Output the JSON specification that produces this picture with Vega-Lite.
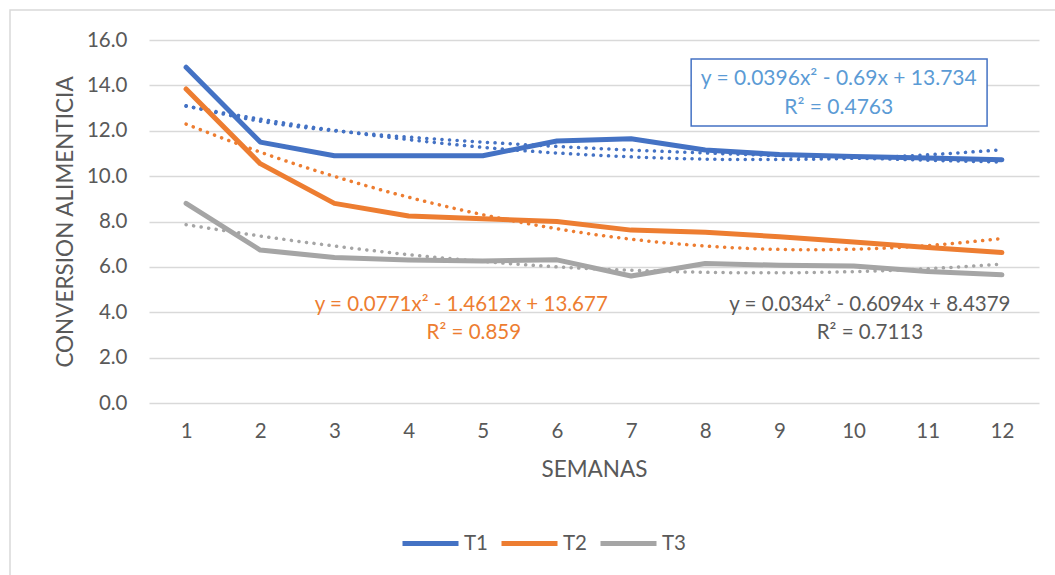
{
  "$schema": "https://vega.github.io/schema/vega-lite/v6.json",
  "width": 890,
  "height": 363,
  "autosize": {"type": "none"},
  "padding": {"left": 149, "top": 40, "right": 16, "bottom": 172},
  "background": "white",
  "config": {
    "view": {"stroke": null},
    "font": "Lato",
    "text": {"font": "Lato"}
  },
  "datasets": {
    "obs": [
      {"semana": 1, "serie": "T1", "valor": 14.8},
      {"semana": 2, "serie": "T1", "valor": 11.5},
      {"semana": 3, "serie": "T1", "valor": 10.9},
      {"semana": 4, "serie": "T1", "valor": 10.9},
      {"semana": 5, "serie": "T1", "valor": 10.9},
      {"semana": 6, "serie": "T1", "valor": 11.55},
      {"semana": 7, "serie": "T1", "valor": 11.65},
      {"semana": 8, "serie": "T1", "valor": 11.15},
      {"semana": 9, "serie": "T1", "valor": 10.95},
      {"semana": 10, "serie": "T1", "valor": 10.87},
      {"semana": 11, "serie": "T1", "valor": 10.8},
      {"semana": 12, "serie": "T1", "valor": 10.72},
      {"semana": 1, "serie": "T2", "valor": 13.84},
      {"semana": 2, "serie": "T2", "valor": 10.55},
      {"semana": 3, "serie": "T2", "valor": 8.8},
      {"semana": 4, "serie": "T2", "valor": 8.24},
      {"semana": 5, "serie": "T2", "valor": 8.12},
      {"semana": 6, "serie": "T2", "valor": 8.0},
      {"semana": 7, "serie": "T2", "valor": 7.62},
      {"semana": 8, "serie": "T2", "valor": 7.53},
      {"semana": 9, "serie": "T2", "valor": 7.33},
      {"semana": 10, "serie": "T2", "valor": 7.1},
      {"semana": 11, "serie": "T2", "valor": 6.85},
      {"semana": 12, "serie": "T2", "valor": 6.63},
      {"semana": 1, "serie": "T3", "valor": 8.8},
      {"semana": 2, "serie": "T3", "valor": 6.74},
      {"semana": 3, "serie": "T3", "valor": 6.41},
      {"semana": 4, "serie": "T3", "valor": 6.3},
      {"semana": 5, "serie": "T3", "valor": 6.26},
      {"semana": 6, "serie": "T3", "valor": 6.31},
      {"semana": 7, "serie": "T3", "valor": 5.6},
      {"semana": 8, "serie": "T3", "valor": 6.15},
      {"semana": 9, "serie": "T3", "valor": 6.07},
      {"semana": 10, "serie": "T3", "valor": 6.04},
      {"semana": 11, "serie": "T3", "valor": 5.8},
      {"semana": 12, "serie": "T3", "valor": 5.65}
    ],
    "trend": [
      {"semana": 1, "serie": "T1", "curva": "T1a", "valor": 13.08},
      {"semana": 2, "serie": "T1", "curva": "T1a", "valor": 12.51},
      {"semana": 3, "serie": "T1", "curva": "T1a", "valor": 12.02},
      {"semana": 4, "serie": "T1", "curva": "T1a", "valor": 11.61},
      {"semana": 5, "serie": "T1", "curva": "T1a", "valor": 11.27},
      {"semana": 6, "serie": "T1", "curva": "T1a", "valor": 11.02},
      {"semana": 7, "serie": "T1", "curva": "T1a", "valor": 10.85},
      {"semana": 8, "serie": "T1", "curva": "T1a", "valor": 10.75},
      {"semana": 9, "serie": "T1", "curva": "T1a", "valor": 10.73},
      {"semana": 10, "serie": "T1", "curva": "T1a", "valor": 10.79},
      {"semana": 11, "serie": "T1", "curva": "T1a", "valor": 10.94},
      {"semana": 12, "serie": "T1", "curva": "T1a", "valor": 11.16},
      {"semana": 1, "serie": "T1", "curva": "T1b", "valor": 13.1},
      {"semana": 2, "serie": "T1", "curva": "T1b", "valor": 12.42},
      {"semana": 3, "serie": "T1", "curva": "T1b", "valor": 12.0},
      {"semana": 4, "serie": "T1", "curva": "T1b", "valor": 11.72},
      {"semana": 5, "serie": "T1", "curva": "T1b", "valor": 11.5},
      {"semana": 6, "serie": "T1", "curva": "T1b", "valor": 11.31},
      {"semana": 7, "serie": "T1", "curva": "T1b", "valor": 11.15},
      {"semana": 8, "serie": "T1", "curva": "T1b", "valor": 11.02},
      {"semana": 9, "serie": "T1", "curva": "T1b", "valor": 10.9},
      {"semana": 10, "serie": "T1", "curva": "T1b", "valor": 10.8},
      {"semana": 11, "serie": "T1", "curva": "T1b", "valor": 10.7},
      {"semana": 12, "serie": "T1", "curva": "T1b", "valor": 10.62},
      {"semana": 1, "serie": "T2", "curva": "T2", "valor": 12.29},
      {"semana": 2, "serie": "T2", "curva": "T2", "valor": 11.06},
      {"semana": 3, "serie": "T2", "curva": "T2", "valor": 9.99},
      {"semana": 4, "serie": "T2", "curva": "T2", "valor": 9.07},
      {"semana": 5, "serie": "T2", "curva": "T2", "valor": 8.3},
      {"semana": 6, "serie": "T2", "curva": "T2", "valor": 7.68},
      {"semana": 7, "serie": "T2", "curva": "T2", "valor": 7.22},
      {"semana": 8, "serie": "T2", "curva": "T2", "valor": 6.92},
      {"semana": 9, "serie": "T2", "curva": "T2", "valor": 6.77},
      {"semana": 10, "serie": "T2", "curva": "T2", "valor": 6.78},
      {"semana": 11, "serie": "T2", "curva": "T2", "valor": 6.94},
      {"semana": 12, "serie": "T2", "curva": "T2", "valor": 7.25},
      {"semana": 1, "serie": "T3", "curva": "T3", "valor": 7.86},
      {"semana": 2, "serie": "T3", "curva": "T3", "valor": 7.36},
      {"semana": 3, "serie": "T3", "curva": "T3", "valor": 6.92},
      {"semana": 4, "serie": "T3", "curva": "T3", "valor": 6.54},
      {"semana": 5, "serie": "T3", "curva": "T3", "valor": 6.24},
      {"semana": 6, "serie": "T3", "curva": "T3", "valor": 6.0},
      {"semana": 7, "serie": "T3", "curva": "T3", "valor": 5.85},
      {"semana": 8, "serie": "T3", "curva": "T3", "valor": 5.76},
      {"semana": 9, "serie": "T3", "curva": "T3", "valor": 5.74},
      {"semana": 10, "serie": "T3", "curva": "T3", "valor": 5.79},
      {"semana": 11, "serie": "T3", "curva": "T3", "valor": 5.92},
      {"semana": 12, "serie": "T3", "curva": "T3", "valor": 6.12}
    ],
    "etiquetas": [
      {"semana": 9.8, "valor": 14.28, "serie": "T1", "texto": "y = 0.0396x² - 0.69x + 13.734"},
      {"semana": 9.8, "valor": 13.0, "serie": "T1", "texto": "R² = 0.4763"},
      {"semana": 4.71, "valor": 4.32, "serie": "T2", "texto": "y = 0.0771x² - 1.4612x + 13.677"},
      {"semana": 4.88, "valor": 3.09, "serie": "T2", "texto": "R² = 0.859"},
      {"semana": 10.22, "valor": 4.32, "serie": "T3", "texto": "y = 0.034x² - 0.6094x + 8.4379"},
      {"semana": 10.22, "valor": 3.09, "serie": "T3", "texto": "R² = 0.7113"}
    ],
    "caja": [
      {"semana": 7.81, "semana2": 11.8, "valor": 15.16, "valor2": 12.21}
    ],
    "marco": [
      {"semana": -1.374, "semana2": 30, "valor": 17.32, "valor2": -30}
    ]
  },
  "encoding": {
    "x": {
      "field": "semana",
      "type": "quantitative",
      "scale": {"domain": [0.5, 12.5], "nice": false, "zero": false},
      "axis": {
        "values": [1, 2, 3, 4, 5, 6, 7, 8, 9, 10, 11, 12],
        "grid": false,
        "domain": false,
        "ticks": false,
        "tickSize": 0,
        "labelPadding": 18,
        "labelFontSize": 20.5,
        "labelColor": "#595959",
        "labelFont": "Lato",
        "title": "SEMANAS",
        "titleFont": "Lato",
        "titleFontSize": 22.5,
        "titleFontWeight": "normal",
        "titleColor": "#595959",
        "titlePadding": 17
      }
    },
    "y": {
      "field": "valor",
      "type": "quantitative",
      "scale": {"domain": [0, 16], "nice": false, "zero": false},
      "axis": {
        "values": [0, 2, 4, 6, 8, 10, 12, 14, 16],
        "format": ".1f",
        "grid": true,
        "gridColor": "#D9D9D9",
        "gridWidth": 1.5,
        "domain": false,
        "ticks": false,
        "tickSize": 0,
        "labelPadding": 22,
        "labelFontSize": 20.5,
        "labelColor": "#595959",
        "labelFont": "Lato",
        "title": "CONVERSION ALIMENTICIA",
        "titleFont": "Lato",
        "titleFontSize": 22.5,
        "titleFontWeight": "normal",
        "titleColor": "#595959",
        "titlePadding": 9
      }
    }
  },
  "layer": [
    {
      "data": {"name": "marco"},
      "mark": {"type": "rect", "fill": null, "fillOpacity": 0, "stroke": "#D9D9D9", "strokeWidth": 1.5, "clip": false},
      "encoding": {
        "x2": {"field": "semana2"},
        "y2": {"field": "valor2"}
      }
    },
    {
      "data": {"name": "trend"},
      "mark": {"type": "line", "strokeWidth": 3.5, "strokeDash": [0.1, 7.5], "strokeCap": "round", "interpolate": "natural"},
      "encoding": {
        "detail": {"field": "curva"},
        "color": {"field": "serie", "type": "nominal"}
      }
    },
    {
      "data": {"name": "obs"},
      "mark": {"type": "line", "strokeWidth": 5, "strokeCap": "round", "strokeJoin": "round"},
      "encoding": {
        "color": {
          "field": "serie",
          "type": "nominal",
          "scale": {"domain": ["T1", "T2", "T3"], "range": ["#4472C4", "#ED7D31", "#A5A5A5"]},
          "legend": {
            "title": null,
            "orient": "none",
            "direction": "horizontal",
            "legendX": 251,
            "legendY": 473,
            "padding": 0,
            "symbolType": "stroke",
            "symbolSize": 3136,
            "symbolStrokeWidth": 5,
            "labelFontSize": 20.5,
            "labelFont": "Lato",
            "labelColor": "#595959",
            "labelOffset": 3,
            "columnPadding": 3
          }
        }
      }
    },
    {
      "data": {"name": "caja"},
      "mark": {"type": "rect", "fill": "white", "stroke": "#4472C4", "strokeWidth": 1.5},
      "encoding": {
        "x2": {"field": "semana2"},
        "y2": {"field": "valor2"}
      }
    },
    {
      "data": {"name": "etiquetas"},
      "transform": [{"filter": "datum.serie === 'T1'"}],
      "mark": {"type": "text", "fontSize": 21, "font": "Lato", "align": "center", "baseline": "middle", "color": "#5B9BD5"},
      "encoding": {"text": {"field": "texto"}}
    },
    {
      "data": {"name": "etiquetas"},
      "transform": [{"filter": "datum.serie === 'T2'"}],
      "mark": {"type": "text", "fontSize": 20.5, "font": "Lato", "align": "center", "baseline": "middle", "color": "#ED7D31"},
      "encoding": {"text": {"field": "texto"}}
    },
    {
      "data": {"name": "etiquetas"},
      "transform": [{"filter": "datum.serie === 'T3'"}],
      "mark": {"type": "text", "fontSize": 20.5, "font": "Lato", "align": "center", "baseline": "middle", "color": "#595959"},
      "encoding": {"text": {"field": "texto"}}
    }
  ]
}
